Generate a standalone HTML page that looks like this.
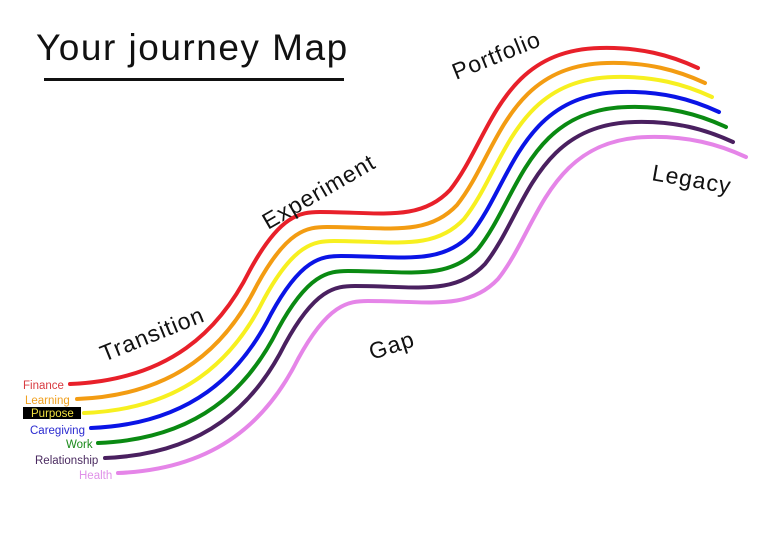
<!DOCTYPE html>
<html><head><style>
html,body{margin:0;padding:0;background:#fff;}
svg{display:block;}
text{font-family:"Liberation Sans",sans-serif;}
</style></head><body>
<svg width="768" height="542" viewBox="0 0 768 542" xmlns="http://www.w3.org/2000/svg">
<rect width="768" height="542" fill="#fff"/>
<text x="36" y="60" font-size="37" letter-spacing="1.5" fill="#111">Your journey Map</text>
<rect x="44" y="78" width="300" height="3" fill="#111"/>
<defs>
<path id="p" d="M70,384 C170,380 220,330 250,270 C280,215 300,212 320,212 C380,212 420,222 450,190 C490,140 500,50 600,48 C640,47 670,55 698,68" fill="none" stroke-width="4" stroke-linecap="round"/>
</defs>
<g fill="none" stroke-width="4" stroke-linecap="round">
<use href="#p" stroke="#e8202a"/>
<use href="#p" stroke="#f39c12" transform="translate(7,15)"/>
<use href="#p" stroke="#f7f020" transform="translate(14,29)"/>
<use href="#p" stroke="#0a14e6" transform="translate(21,44)"/>
<use href="#p" stroke="#0a8a12" transform="translate(28,59)"/>
<use href="#p" stroke="#4a2060" transform="translate(35,74)"/>
<use href="#p" stroke="#e585e8" transform="translate(48,89)"/>
</g>
<g font-size="23" fill="#111" letter-spacing="1">
<text transform="translate(104,362) rotate(-22)">Transition</text>
<text transform="translate(268,230) rotate(-30)">Experiment</text>
<text transform="translate(456,80) rotate(-22)">Portfolio</text>
<text transform="translate(651,180) rotate(10)">Legacy</text>
<text transform="translate(372,360) rotate(-18)">Gap</text>
</g>
<g font-size="11.5">
<text x="23" y="389" fill="#d83a40">Finance</text>
<text x="25" y="404" fill="#f0a020">Learning</text>
<rect x="23" y="407" width="58" height="12" fill="#000"/>
<text x="31" y="417" fill="#f0e040">Purpose</text>
<text x="30" y="434" fill="#2a2ad0">Caregiving</text>
<text x="66" y="448" fill="#1a8a1a">Work</text>
<text x="35" y="464" fill="#4a2a60">Relationship</text>
<text x="79" y="479" fill="#e090e8">Health</text>
</g>
</svg>
</body></html>
